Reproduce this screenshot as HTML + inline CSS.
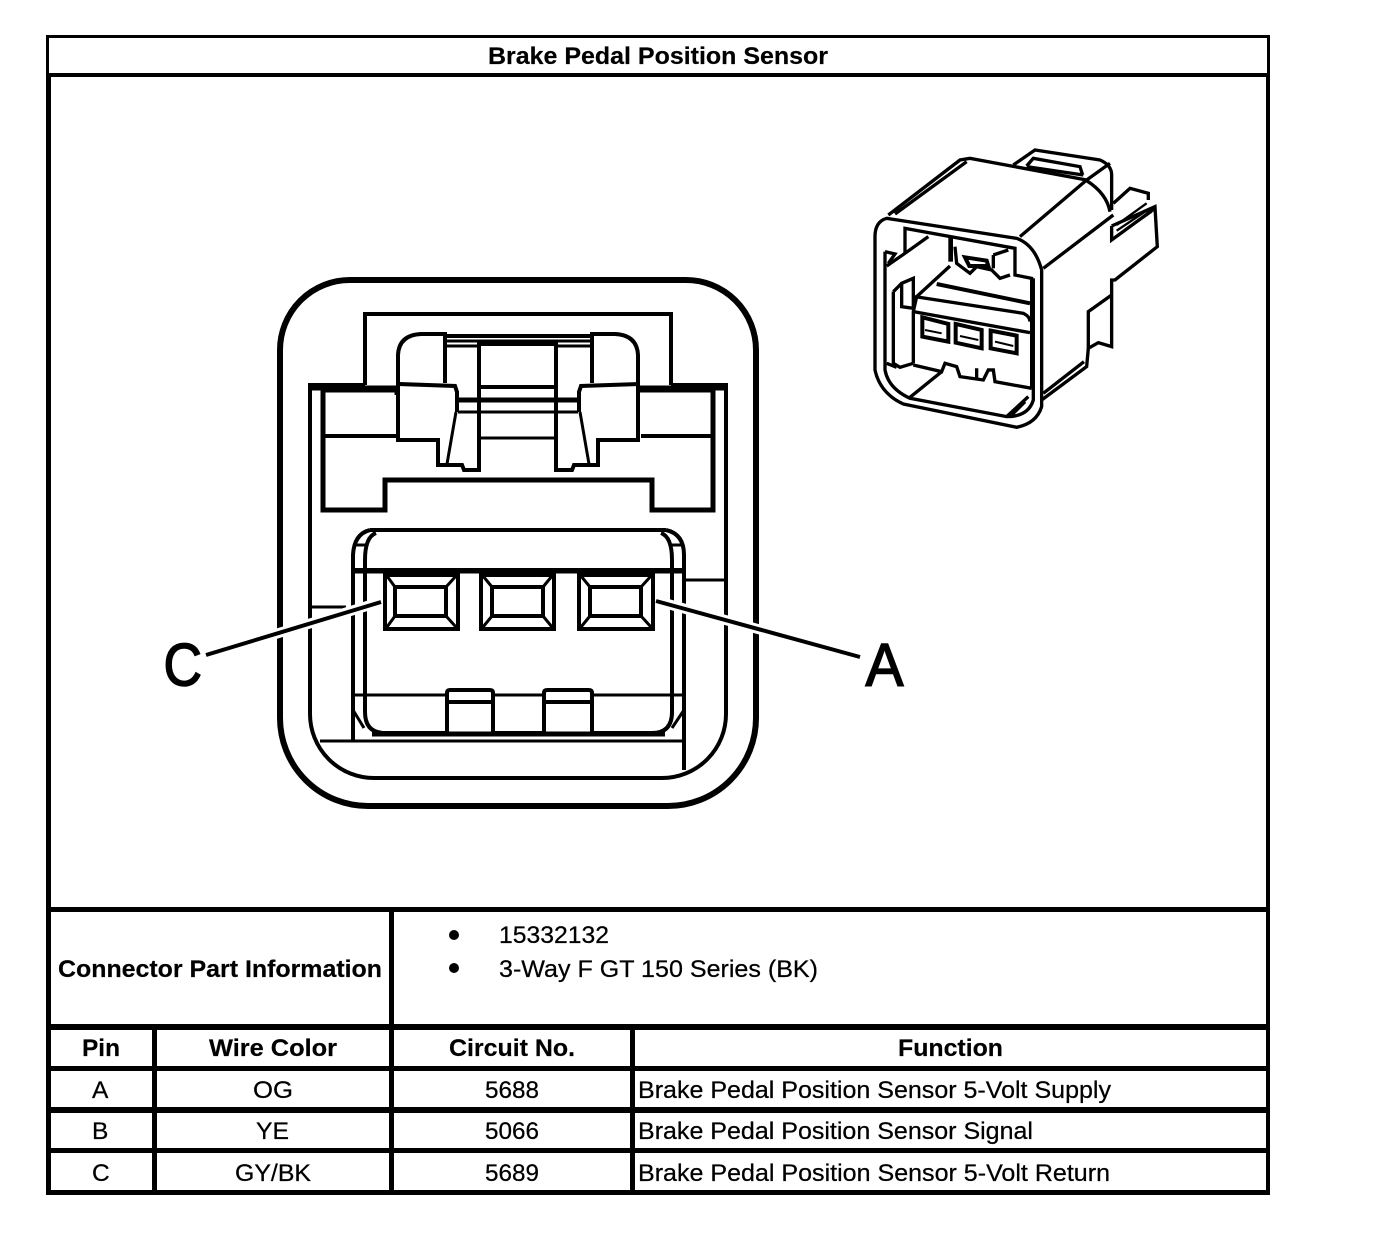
<!DOCTYPE html>
<html><head><meta charset="utf-8"><style>
html,body{margin:0;padding:0;background:#fff}
svg{display:block}
text{font-family:"Liberation Sans",sans-serif;font-size:24.5px;fill:#000;stroke:#000;stroke-width:.25}
.b{font-weight:bold;stroke-width:.2}
.c{fill:none;stroke:#000;stroke-linejoin:miter;stroke-linecap:butt}
.k{fill:#000;stroke:none}
</style></head><body>
<svg width="1376" height="1254" viewBox="0 0 1376 1254" xmlns="http://www.w3.org/2000/svg">
<rect width="1376" height="1254" fill="#fff"/>
<!-- table frame -->
<g class="k" shape-rendering="crispEdges">
<rect x="46" y="35" width="1224" height="3"/>
<rect x="46" y="73" width="1224" height="4"/>
<rect x="46" y="35" width="3" height="42"/>
<rect x="1267" y="35" width="3" height="42"/>
<rect x="46" y="73" width="5" height="1122"/>
<rect x="1266" y="73" width="4" height="1122"/>
<rect x="46" y="907" width="1224" height="5"/>
<rect x="46" y="1024" width="1224" height="6"/>
<rect x="46" y="1066" width="1224" height="5"/>
<rect x="46" y="1107" width="1224" height="6"/>
<rect x="46" y="1148" width="1224" height="5"/>
<rect x="46" y="1190" width="1224" height="5"/>
<rect x="389" y="907" width="5" height="288"/>
<rect x="152" y="1024" width="5" height="171"/>
<rect x="630" y="1024" width="5" height="171"/>
</g>
<!-- text -->
<text class="b" x="488" y="64" textLength="340" lengthAdjust="spacingAndGlyphs">Brake Pedal Position Sensor</text>
<text class="b" x="58" y="977" textLength="324" lengthAdjust="spacingAndGlyphs">Connector Part Information</text>
<circle cx="454" cy="935" r="5"/><circle cx="454" cy="968" r="5"/>
<text x="499" y="943" textLength="110" lengthAdjust="spacingAndGlyphs">15332132</text>
<text x="499" y="977" textLength="319" lengthAdjust="spacingAndGlyphs">3-Way F GT 150 Series (BK)</text>
<text class="b" x="82" y="1056" textLength="38" lengthAdjust="spacingAndGlyphs">Pin</text>
<text class="b" x="209" y="1056" textLength="128" lengthAdjust="spacingAndGlyphs">Wire Color</text>
<text class="b" x="449" y="1056" textLength="126" lengthAdjust="spacingAndGlyphs">Circuit No.</text>
<text class="b" x="898" y="1056" textLength="105" lengthAdjust="spacingAndGlyphs">Function</text>
<text x="92" y="1098">A</text><text x="253" y="1098" textLength="40" lengthAdjust="spacingAndGlyphs">OG</text><text x="485" y="1098" textLength="54" lengthAdjust="spacingAndGlyphs">5688</text>
<text x="638" y="1098" textLength="473" lengthAdjust="spacingAndGlyphs">Brake Pedal Position Sensor 5-Volt Supply</text>
<text x="92" y="1139">B</text><text x="256" y="1139" textLength="33" lengthAdjust="spacingAndGlyphs">YE</text><text x="485" y="1139" textLength="54" lengthAdjust="spacingAndGlyphs">5066</text>
<text x="638" y="1139" textLength="395" lengthAdjust="spacingAndGlyphs">Brake Pedal Position Sensor Signal</text>
<text x="92" y="1181">C</text><text x="235" y="1181" textLength="76" lengthAdjust="spacingAndGlyphs">GY/BK</text><text x="485" y="1181" textLength="54" lengthAdjust="spacingAndGlyphs">5689</text>
<text x="638" y="1181" textLength="472" lengthAdjust="spacingAndGlyphs">Brake Pedal Position Sensor 5-Volt Return</text>

<!-- main connector face -->
<g class="c">
<path stroke-width="6" d="M350 280H686A70 70 0 0 1 756 350V718A88 88 0 0 1 668 806H368A88 88 0 0 1 280 718V350A70 70 0 0 1 350 280Z"/>
<path stroke-width="4" d="M365 385V314H671V385M365 385H310V714A64 64 0 0 0 374 778H662A64 64 0 0 0 726 714V385H671"/>
<path stroke-width="5" d="M323 390H397V395M323 390V510H385V480H652V510H713V390H640"/>
<path stroke-width="5" d="M312 388H397M640 388H724"/>
<path stroke-width="4" d="M323 436H397M641 436H713"/>
<!-- upper latch -->
<path stroke-width="4" d="M398 384V355Q399 335 421 334H445V383M445 336H592M638 384V355Q637 335 615 334H592V383"/>
<path stroke-width="3" d="M445 341H591M445 346H479M556 346H591"/>
<path stroke-width="4" d="M479 344H556V387H479ZM479 387V470H464L462 465H438V440H398V384L455 386L457 392V412M556 387V470H572L574 465H598V440H638V384L581 386L579 392V412"/>
<path stroke-width="3" d="M456 412L447 464M580 412L589 464"/>
<path stroke-width="5" d="M458 400H578"/>
<path stroke-width="3" d="M458 412H578M479 438H556"/>
<!-- socket -->
<path stroke-width="4" d="M370 530H666M353 740V555Q354 534 370 530M666 530Q684 534 684 555V770M353 570H683M365 560V712Q365 733 385 733H652Q672 733 672 712V560M365 560Q365 537 376 533M672 560Q672 537 661 533"/>
<path stroke-width="3" d="M320 741H683M353 695H683M353 545H365M672 545H684M353 710L364 728M684 710L672 728"/>
<path stroke-width="3" d="M312 607H346M685 580H725"/>
<!-- tabs -->
<path stroke-width="4" d="M447 733V693Q447 690 450 690H490Q493 690 493 693V733M447 702H493M544 733V693Q544 690 547 690H589Q592 690 592 693V733M544 702H592" fill="#fff"/>
<path stroke-width="5" d="M372 734H665"/>
<!-- pins -->
<path stroke-width="5" d="M353 571H683"/>
<g stroke-width="4" fill="#fff">
<rect x="385" y="575" width="73" height="54"/>
<rect x="395" y="587" width="51" height="29" />
<path stroke-width="3" d="M387 576L395 587M456 576L446 587M387 627L395 616M456 627L446 616"/>
</g>
<g stroke-width="4" fill="#fff">
<rect x="481" y="575" width="73" height="54"/>
<rect x="492" y="587" width="51" height="29"/>
<path stroke-width="3" d="M483 576L492 587M552 576L543 587M483 627L492 616M552 627L543 616"/>
</g>
<g stroke-width="4" fill="#fff">
<rect x="579" y="575" width="74" height="54"/>
<rect x="590" y="587" width="51" height="29"/>
<path stroke-width="3" d="M581 576L590 587M651 576L641 587M581 627L590 616M651 627L641 616"/>
</g>
<!-- leaders -->
<path stroke="#fff" stroke-width="10" d="M380 602L207 655M657 601L859 657"/>
<path stroke-width="4" d="M381 602L206 655M656 601L860 657"/>
</g>
<text x="163.5" y="685.5" textLength="38.5" lengthAdjust="spacingAndGlyphs" style="font-size:60px;stroke-width:1.5">C</text>
<text x="865.5" y="685.5" textLength="38" lengthAdjust="spacingAndGlyphs" style="font-size:60px;stroke-width:1.5">A</text>

<!-- isometric connector (coordinates in 3x space) -->
<g class="c" transform="translate(860 140) scale(.3333)" stroke-width="10" stroke-linejoin="round">
<path d="M80 235L470 295Q525 315 545 390V800Q530 850 470 862L130 792Q60 760 45 690V290Q45 245 80 235Z"/>
<path d="M75 335V690Q85 745 150 775L440 830Q505 830 520 780V415"/>
<path d="M85 225L300 60L330 55L680 120L480 290M105 222L320 65"/>
<path d="M680 122Q740 160 750 215M550 385L760 225"/>
<path d="M460 75L525 30L720 60Q755 75 755 105V210M500 78L520 55L660 80L668 105M500 80L670 105M680 120L750 70"/>
<path d="M760 190L810 145L865 160V180M755 258L885 200L892 320L765 420H755V620L715 608L685 625V515L755 465M755 258V300L885 205"/>
<path stroke-width="7" d="M770 255L860 190M770 272L870 205M770 288L875 215"/>
<path d="M685 625L680 680L545 780M550 760L672 665"/>
<path d="M135 340V265L465 325V405L515 415V745"/>
<path d="M205 290L135 340L80 378M75 335L105 342L85 370"/>
<path stroke-width="14" d="M272 292V365"/>
<path d="M285 320L290 370L330 400L350 380L395 390L420 415L450 405M400 345L445 330M400 345V385"/>
<path stroke-width="12" d="M315 352L380 362L385 378L328 378Z"/>
<path d="M270 378L170 470L160 515V670M165 470L490 520Q510 530 510 545M160 515L510 578"/>
<path stroke-width="12" d="M230 432L510 490"/>
<path stroke-width="12" d="M187 532L265 552V605L187 590ZM287 552L365 570V625L287 608ZM392 572L470 587V640L392 625Z"/>
<path stroke-width="6" d="M195 570L245 580M300 588L355 600M405 605L460 618"/>
<path d="M125 430L160 415V505L125 500ZM100 455L125 430M100 455V670L120 682L160 670"/>
<path d="M80 670L110 682M160 675L245 695L255 670L290 680L300 710L370 720L385 690H400L405 725L515 745M245 695L150 772M350 685V715"/>
<path d="M505 770L440 830M495 785L455 825"/>
</g>
</svg>
</body></html>
